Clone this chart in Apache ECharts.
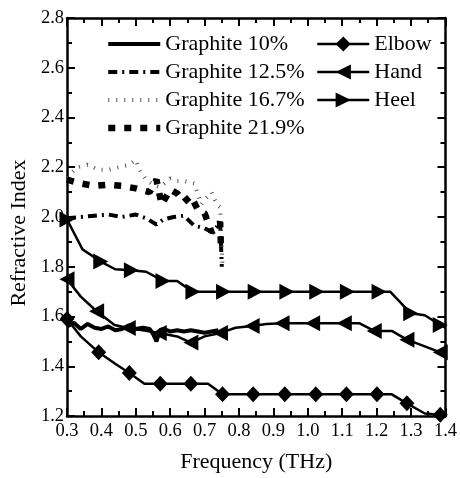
<!DOCTYPE html>
<html>
<head>
<meta charset="utf-8">
<script src="https://cdn.jsdelivr.net/npm/echarts@6/dist/echarts.min.js"></script>
<style>
  html, body { margin: 0; padding: 0; background: #fff; }
  #main { width: 460px; height: 478px; }
</style>
</head>
<body>
<div id="main"></div>
<script>
// 数据
var g10X = [0.30, 0.32, 0.34, 0.36, 0.38, 0.40, 0.42, 0.44, 0.46, 0.48, 0.50, 0.52, 0.54, 0.55, 0.56, 0.57, 0.58, 0.60, 0.62, 0.64, 0.66, 0.68, 0.70, 0.72, 0.74];
var g10Y = [1.56, 1.575, 1.55, 1.57, 1.555, 1.55, 1.56, 1.545, 1.55, 1.565, 1.55, 1.555, 1.55, 1.53, 1.50, 1.545, 1.55, 1.54, 1.545, 1.54, 1.545, 1.54, 1.535, 1.54, 1.545];

var g125X = [0.30, 0.34, 0.38, 0.42, 0.46, 0.50, 0.53, 0.56, 0.58, 0.61, 0.64, 0.67, 0.70, 0.72, 0.735, 0.745, 0.75];
var g125Y = [1.995, 2.0, 2.005, 2.01, 2.0, 2.01, 1.995, 1.97, 1.99, 2.0, 2.005, 1.965, 1.955, 1.94, 1.96, 1.98, 1.80];

var g167X = [0.30, 0.33, 0.36, 0.39, 0.42, 0.45, 0.48, 0.50, 0.51, 0.53, 0.55, 0.57, 0.60, 0.62, 0.64, 0.67, 0.69, 0.70, 0.72, 0.735, 0.745, 0.75, 0.752];
var g167Y = [2.16, 2.20, 2.21, 2.19, 2.19, 2.20, 2.21, 2.23, 2.19, 2.15, 2.13, 2.12, 2.155, 2.145, 2.145, 2.135, 2.05, 2.07, 2.10, 2.05, 2.04, 2.04, 1.80];

var g219X = [0.30, 0.34, 0.38, 0.42, 0.46, 0.50, 0.54, 0.56, 0.575, 0.60, 0.62, 0.64, 0.66, 0.68, 0.70, 0.72, 0.735, 0.745, 0.748];
var g219Y = [2.15, 2.135, 2.125, 2.13, 2.125, 2.115, 2.10, 2.15, 2.05, 2.11, 2.095, 2.06, 2.085, 2.03, 2.015, 1.94, 1.955, 1.98, 1.86];

var elbowX = [0.30, 0.34, 0.392, 0.44, 0.481, 0.525, 0.571, 0.62, 0.66, 0.71, 0.752, 0.80, 0.841, 0.89, 0.933, 0.98, 1.023, 1.07, 1.112, 1.16, 1.201, 1.244, 1.288, 1.34, 1.385, 1.40];
var elbowY = [1.59, 1.52, 1.456, 1.41, 1.373, 1.33, 1.33, 1.33, 1.33, 1.33, 1.287, 1.287, 1.287, 1.287, 1.287, 1.287, 1.287, 1.287, 1.287, 1.287, 1.287, 1.287, 1.251, 1.21, 1.205, 1.20];

var handX = [0.30, 0.34, 0.386, 0.438, 0.478, 0.52, 0.568, 0.62, 0.66, 0.70, 0.746, 0.79, 0.838, 0.88, 0.925, 0.97, 1.014, 1.06, 1.106, 1.149, 1.193, 1.244, 1.288, 1.34, 1.385, 1.40];
var handY = [1.75, 1.68, 1.621, 1.566, 1.554, 1.545, 1.534, 1.52, 1.495, 1.52, 1.534, 1.555, 1.562, 1.57, 1.573, 1.573, 1.573, 1.573, 1.573, 1.573, 1.542, 1.542, 1.507, 1.48, 1.456, 1.45];

var heelX = [0.30, 0.345, 0.398, 0.44, 0.487, 0.53, 0.579, 0.62, 0.666, 0.71, 0.755, 0.80, 0.847, 0.89, 0.939, 0.98, 1.026, 1.07, 1.115, 1.16, 1.207, 1.24, 1.299, 1.34, 1.385, 1.40];
var heelY = [1.99, 1.87, 1.821, 1.79, 1.786, 1.78, 1.743, 1.743, 1.699, 1.699, 1.699, 1.699, 1.699, 1.699, 1.699, 1.699, 1.699, 1.699, 1.699, 1.699, 1.699, 1.699, 1.613, 1.605, 1.566, 1.555];

// 1 = draw marker at this vertex
var markFlags = [1, 0, 1, 0, 1, 0, 1, 0, 1, 0, 1, 0, 1, 0, 1, 0, 1, 0, 1, 0, 1, 0, 1, 0, 1, 0];

var font = 'Liberation Serif';

function pairs(xs, ys) {
    return xs.map(function (x, i) { return [x, ys[i]]; });
}
function marked(xs, ys) {
    return xs.map(function (x, i) {
        var d = { value: [x, ys[i]] };
        if (!markFlags[i]) d.symbol = 'none';
        return d;
    });
}

var myChart = echarts.init(document.getElementById('main'));

var axisCommon = {
    type: 'value',
    axisLine: { show: true, onZero: false, lineStyle: { color: '#000', width: 2.5 } },
    axisTick: { show: true, inside: true, length: 8, lineStyle: { color: '#000', width: 2 } },
    minorTick: { show: true, splitNumber: 2, length: 5, lineStyle: { color: '#000', width: 2 } },
    splitLine: { show: false }
};

var legendText = { fontFamily: font, fontSize: 22, color: '#000', lineHeight: 22 };

option = {
    animation: false,
    backgroundColor: '#fff',
    grid: { left: 65, right: 13, top: 18, bottom: 53 },
    legend: [{
        orient: 'vertical',
        left: 105,
        top: 33,
        padding: 0,
        itemWidth: 52,
        itemHeight: 14,
        itemGap: 6,
        itemStyle: { opacity: 0 },   // graphite lines have no marker
        textStyle: legendText,
        data: [
            { name: 'Graphite 10%', lineStyle: { width: 4 } },
            { name: 'Graphite 12.5%', lineStyle: { width: 4 } },
            { name: 'Graphite 16.7%', lineStyle: { width: 4 } },
            { name: 'Graphite 21.9%', lineStyle: { width: 6.5 } }
        ]
    }, {
        orient: 'vertical',
        left: 316,
        top: 33,
        padding: 0,
        itemWidth: 52,
        itemHeight: 19,
        itemGap: 6,
        lineStyle: { width: 2.5 },
        textStyle: legendText,
        data: ['Elbow', 'Hand', 'Heel']
    }],
    xAxis: [
        Object.assign({}, axisCommon, {
            min: 0.3, max: 1.4, interval: 0.1,
            name: 'Frequency (THz)',
            nameLocation: 'middle',
            nameGap: 35,
            nameTextStyle: { fontFamily: font, fontSize: 22, color: '#000' },
            axisLabel: {
                fontFamily: font, fontSize: 18.5, color: '#000', margin: 6,
                formatter: function (v) { return v.toFixed(1); }
            }
        }),
        Object.assign({}, axisCommon, {
            position: 'top', min: 0.3, max: 1.4, interval: 0.1,
            axisLabel: { show: false }
        })
    ],
    yAxis: [
        Object.assign({}, axisCommon, {
            min: 1.2, max: 2.8, interval: 0.2,
            name: 'Refractive Index',
            nameLocation: 'middle',
            nameGap: 36,
            nameTextStyle: { fontFamily: font, fontSize: 22, color: '#000', padding: [0, 32, 0, 0] },
            axisLabel: {
                fontFamily: font, fontSize: 18.5, color: '#000', margin: 3,
                formatter: function (v) { return v.toFixed(1); }
            }
        }),
        Object.assign({}, axisCommon, {
            position: 'right', min: 1.2, max: 2.8, interval: 0.2,
            axisLabel: { show: false }
        })
    ],
    series: [{
        name: 'Graphite 10%',
        type: 'line',
        symbol: 'none',
        color: '#000',
        lineStyle: { color: '#000', width: 4 },
        data: pairs(g10X, g10Y)
    }, {
        name: 'Graphite 12.5%',
        type: 'line',
        symbol: 'none',
        color: '#000',
        lineStyle: { color: '#000', width: 4, type: [9, 5, 2, 5] },
        data: pairs(g125X, g125Y)
    }, {
        name: 'Graphite 16.7%',
        type: 'line',
        symbol: 'none',
        color: '#000',
        lineStyle: { color: '#555', width: 4, type: [1, 7] },
        data: pairs(g167X, g167Y)
    }, {
        name: 'Graphite 21.9%',
        type: 'line',
        symbol: 'none',
        color: '#000',
        lineStyle: { color: '#000', width: 6.5, type: [7, 9] },
        data: pairs(g219X, g219Y)
    }, {
        name: 'Elbow',
        type: 'line',
        symbol: 'diamond',
        symbolSize: [15, 16],
        color: '#000',
        itemStyle: { color: '#000' },
        lineStyle: { color: '#000', width: 2.5 },
        data: marked(elbowX, elbowY)
    }, {
        name: 'Hand',
        type: 'line',
        symbol: 'triangle',
        symbolSize: [16, 15],
        symbolRotate: 90,
        color: '#000',
        itemStyle: { color: '#000' },
        lineStyle: { color: '#000', width: 2.5 },
        data: marked(handX, handY)
    }, {
        name: 'Heel',
        type: 'line',
        symbol: 'triangle',
        symbolSize: [16, 15],
        symbolRotate: -90,
        color: '#000',
        itemStyle: { color: '#000' },
        lineStyle: { color: '#000', width: 2.5 },
        data: marked(heelX, heelY)
    }]
};

myChart.setOption(option);
</script>
</body>
</html>
